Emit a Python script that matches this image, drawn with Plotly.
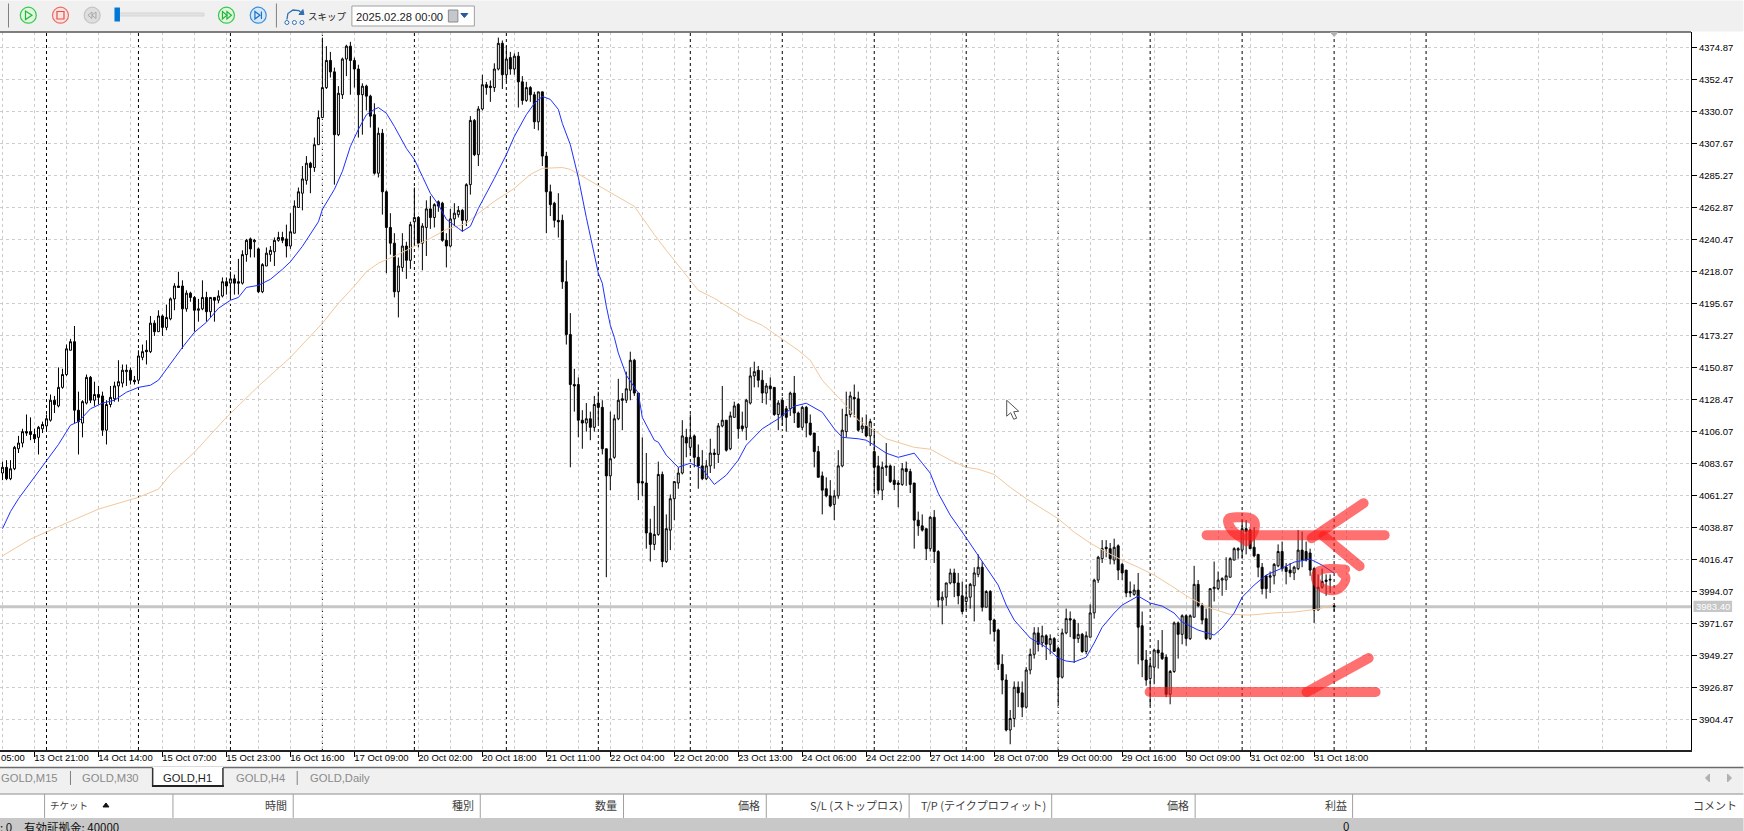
import plotly.graph_objects as go

opens = [
4077,4081,4073,4080,4094,4098,4106,4106,4104,4102,
4108,4110,4114,4128,4124,4137,4146,4163,4169,4121,
4112,4126,4144,4128,4132,4131,4107,4125,4129,4138,
4140,4148,4149,4142,4142,4158,4163,4162,4182,4176,
4187,4179,4185,4199,4208,4208,4192,4203,4200,4191,
4192,4200,4190,4200,4198,4201,4211,4210,4213,4211,
4210,4230,4241,4239,4234,4204,4222,4230,4232,4240,
4242,4241,4236,4245,4263,4273,4282,4294,4291,4307,
4326,4347,4366,4358,4314,4342,4367,4376,4366,4360,
4342,4348,4341,4328,4287,4315,4274,4249,4238,4204,
4221,4236,4226,4253,4256,4238,4249,4262,4256,4267,
4266,4240,4236,4255,4258,4261,4254,4279,4324,4300,
4332,4349,4348,4347,4360,4378,4356,4368,4360,4369,
4351,4338,4347,4342,4323,4344,4299,4274,4266,4254,
4254,4211,4174,4139,4139,4114,4112,4115,4109,4126,
4123,4094,4075,4088,4115,4129,4128,4135,4156,4133,
4071,4070,4035,4027,4034,4076,4015,4037,4059,4070,
4077,4102,4095,4103,4088,4082,4073,4082,4091,4090,
4110,4114,4094,4116,4125,4110,4109,4126,4145,4149,
4142,4133,4138,4137,4118,4128,4122,4122,4133,4119,
4109,4123,4112,4105,4092,4075,4066,4061,4055,4061,
4082,4106,4118,4130,4129,4108,4110,4103,4092,4082,
4065,4082,4082,4072,4070,4069,4080,4078,4070,4044,
4040,4038,4024,4046,4022,3988,3990,4000,4007,4000,
3991,3987,3990,3998,4006,4011,3983,3994,3974,3967,
3943,3932,3897,3905,3927,3923,3913,3939,3950,3965,
3958,3963,3957,3961,3954,3934,3965,3975,3974,3961,
3964,3952,3962,3979,4002,4017,4025,4024,4016,4026,
4013,4009,3994,3992,3995,3970,3946,3933,3941,3953,
3951,3948,3922,3938,3972,3964,3977,3961,3976,3999,
3984,3975,3961,3996,3996,4002,4002,4004,4016,4023,
4023,4038,4037,4025,4020,4011,4005,4004,4005,4012,
4022,4011,4009,4007,4010,4023,4022,4021,4010,3981,
3997,4001,4002,3984]
closes = [
4081,4073,4080,4095,4098,4106,4105,4104,4101,4109,
4111,4115,4128,4125,4137,4146,4164,4169,4121,4113,
4127,4144,4128,4132,4130,4107,4125,4130,4138,4141,
4149,4149,4142,4141,4159,4162,4162,4182,4176,4187,
4179,4186,4199,4208,4207,4192,4203,4200,4191,4192,
4200,4190,4200,4198,4201,4211,4208,4213,4210,4210,
4230,4240,4234,4240,4204,4223,4231,4233,4240,4242,
4240,4236,4246,4264,4274,4283,4294,4291,4307,4326,
4347,4366,4358,4314,4343,4367,4376,4366,4360,4342,
4348,4341,4327,4287,4315,4274,4249,4238,4204,4222,
4236,4226,4251,4256,4238,4250,4262,4256,4265,4264,
4240,4236,4255,4259,4261,4254,4279,4324,4300,4332,
4349,4347,4347,4360,4378,4356,4367,4360,4369,4351,
4338,4347,4342,4323,4344,4299,4274,4265,4254,4253,
4211,4174,4139,4138,4114,4112,4115,4109,4125,4123,
4094,4075,4087,4115,4128,4128,4136,4156,4133,4070,
4070,4035,4027,4034,4076,4015,4038,4059,4071,4077,
4103,4098,4102,4088,4082,4073,4082,4091,4090,4110,
4114,4093,4117,4124,4108,4108,4128,4145,4148,4142,
4133,4138,4136,4118,4126,4117,4116,4133,4119,4109,
4123,4112,4104,4092,4074,4065,4061,4054,4061,4082,
4107,4118,4131,4129,4107,4110,4103,4113,4081,4065,
4081,4081,4071,4069,4069,4080,4078,4069,4044,4040,
4037,4024,4046,4022,3988,3990,4000,4007,4000,3991,
3980,3990,3999,4007,4011,3983,3994,3974,3966,3943,
3932,3897,3905,3927,3923,3913,3939,3950,3965,3957,
3963,3957,3961,3952,3934,3965,3975,3974,3961,3964,
3952,3963,3979,4002,4018,4024,4024,4017,4025,4009,
4007,3993,3993,3995,3969,3946,3932,3942,3953,3951,
3947,3922,3938,3972,3964,3977,3961,3977,3999,3984,
3974,3961,3996,3997,4002,4003,4005,4017,4024,4024,
4038,4036,4024,4019,4011,3996,3996,4005,4013,4022,
4010,4008,4007,4011,4023,4016,4016,4009,3981,3997,
4001,4002,4002.5,3983.4]
highs = [
4085,4086,4086,4096,4103,4108,4118,4116,4108,4110,
4113,4118,4132,4131,4151,4150,4167,4171,4180,4134,
4128,4146,4145,4141,4138,4134,4128,4138,4141,4156,
4153,4153,4151,4145,4163,4167,4170,4187,4184,4191,
4188,4195,4200,4210,4218,4212,4205,4204,4201,4199,
4212,4204,4200,4200,4205,4214,4214,4218,4216,4227,
4233,4241,4242,4241,4235,4224,4235,4236,4242,4246,
4246,4251,4259,4268,4277,4292,4299,4295,4312,4331,
4382,4376,4372,4361,4348,4368,4377,4379,4368,4363,
4350,4349,4342,4336,4319,4318,4275,4259,4245,4228,
4245,4239,4253,4277,4257,4252,4268,4271,4266,4268,
4267,4245,4262,4266,4264,4262,4280,4327,4325,4334,
4356,4351,4352,4364,4382,4380,4376,4372,4371,4372,
4355,4351,4348,4344,4344,4344,4302,4279,4267,4273,
4258,4226,4189,4150,4144,4121,4126,4120,4131,4134,
4128,4094,4120,4118,4143,4133,4148,4162,4157,4133,
4102,4091,4045,4054,4085,4078,4048,4062,4071,4081,
4114,4108,4118,4104,4097,4093,4086,4101,4094,4112,
4138,4114,4120,4127,4126,4120,4129,4151,4155,4152,
4149,4140,4144,4137,4128,4130,4124,4134,4145,4120,
4124,4124,4118,4105,4096,4078,4074,4072,4065,4093,
4122,4134,4134,4139,4134,4116,4118,4115,4108,4089,
4085,4098,4083,4082,4072,4084,4085,4080,4070,4050,
4048,4038,4047,4051,4023,3994,4000,4010,4010,4007,
4001,3999,4000,4011,4020,4015,3995,3995,3975,3968,
3950,3936,3911,3931,3931,3931,3941,3954,3969,3969,
3970,3964,3964,3962,3955,3968,3982,3980,3975,3972,
3965,3966,3985,4003,4019,4030,4030,4028,4031,4027,
4014,4009,4001,3999,4007,3980,3953,3947,3954,3960,
3967,3950,3939,3973,3973,3978,3978,3978,4012,4002,
3986,3982,3996,4015,4008,4004,4018,4018,4025,4025,
4044,4044,4038,4039,4020,4014,4005,4008,4014,4027,
4029,4014,4014,4012,4037,4036,4029,4024,4011,4006,
4010,4006,4006,3985]
lows = [
4072,4072,4072,4079,4091,4095,4103,4100,4098,4090,
4105,4107,4113,4119,4123,4136,4145,4163,4112,4090,
4102,4125,4126,4124,4125,4103,4097,4123,4127,4127,
4137,4138,4139,4139,4140,4156,4153,4161,4173,4176,
4173,4177,4184,4191,4207,4164,4190,4197,4176,4183,
4191,4183,4186,4183,4196,4200,4202,4200,4202,4202,
4209,4225,4228,4228,4203,4203,4222,4225,4222,4239,
4238,4228,4234,4245,4263,4261,4279,4273,4288,4307,
4326,4346,4354,4279,4313,4339,4355,4342,4347,4312,
4314,4331,4319,4286,4284,4258,4217,4230,4200,4186,
4218,4213,4220,4237,4235,4219,4229,4248,4249,4260,
4239,4221,4235,4250,4256,4246,4250,4272,4299,4292,
4331,4342,4337,4344,4359,4346,4351,4356,4356,4333,
4335,4337,4337,4318,4317,4292,4245,4257,4249,4242,
4206,4167,4081,4120,4102,4094,4106,4100,4106,4112,
4090,4004,4065,4087,4114,4107,4126,4128,4131,4058,
4061,4024,4015,4023,4033,4011,4014,4023,4044,4066,
4076,4088,4090,4081,4066,4072,4072,4077,4080,4084,
4109,4092,4093,4116,4101,4106,4100,4125,4137,4137,
4126,4125,4128,4117,4107,4110,4106,4117,4112,4109,
4107,4102,4103,4081,4074,4048,4060,4053,4044,4059,
4081,4102,4116,4116,4106,4105,4102,4096,4062,4062,
4058,4075,4070,4065,4053,4068,4068,4063,4024,4033,
4036,4016,4022,4014,3983,3971,3984,3999,3990,3985,
3978,3981,3982,3973,4004,3980,3983,3964,3959,3939,
3922,3896,3887,3899,3913,3906,3912,3936,3947,3952,
3955,3946,3950,3952,3914,3933,3964,3962,3944,3958,
3951,3950,3962,3975,4000,4014,4018,4013,4013,4002,
4002,3990,3990,3991,3943,3934,3928,3914,3929,3940,
3946,3920,3915,3937,3947,3957,3956,3960,3976,3983,
3971,3960,3960,3987,3995,3991,3995,4004,4016,4017,
4017,4020,4024,4018,4004,3992,3989,3993,3999,4011,
4008,3999,4004,4002,4009,4011,4015,4005,3972,3981,
3996,3991,3993,3980]

ma_fast_bar = [0,2,4,7,11,14,17,19,22,25,28,31,34,37,39,42,45,48,51,54,57,59,61,64,67,70,72,75,77,79,80,83,85,87,89,91,93,94,96,98,101,103,105,107,109,111,114,115,117,119,123,126,128,131,133,135,137,139,140,142,144,146,149,150,151,152,153,154,156,159,160,163,164,166,169,172,175,177,178,181,184,186,190,194,198,201,205,208,210,214,216,218,221,224,228,230,232,234,237,241,244,249,251,253,257,261,264,266,268,271,273,275,278,280,284,287,290,293,295,299,303,305,308,310,313,316,320,323,327,330,333]
ma_fast = [4038,4050,4059,4070.6,4086,4097,4110.5,4113,4122,4126,4128,4133.6,4137,4138.5,4142,4153.9,4165,4175.6,4182.6,4192.4,4198,4200,4207,4208.5,4212.7,4219.7,4225,4235.8,4244,4253,4261.7,4275.7,4288.3,4305.8,4317.7,4328,4331.7,4333,4329,4319.8,4304.4,4296.7,4284.8,4272.9,4265,4254.7,4248.4,4246.3,4249.8,4262.4,4283.4,4300,4312.8,4328,4335.9,4340.8,4338.7,4331.7,4321.9,4307,4284,4256,4217,4209.9,4193.8,4180.5,4172,4161,4145.5,4133,4116,4100,4098.6,4089.5,4081,4083.9,4080,4073,4069,4075.5,4086,4096.5,4108,4115,4123.8,4125.9,4119.6,4108,4102,4101,4100,4096.5,4090.9,4088,4090.9,4083.9,4076.9,4062.9,4047.5,4031.6,4019.5,3998.5,3984.5,3974,3961.4,3955,3947.4,3945.3,3944.6,3948,3957.9,3969,3978.9,3984.5,3990.8,3985.9,3983.8,3978.9,3972.6,3967,3963.5,3968.4,3978.9,3990,3998.5,4005.5,4010.4,4014.6,4016.7,4012.5,4006.9]

ma_slow_bar = [0,7,16,24,34,39,42,48,56,64,72,80,84,88,91,94,98,103,107,111,116,119,123,128,132,135,138,140,142,149,158,163,166,172,174,178,182,186,190,199,202,205,209,212,214,218,221,224,228,232,237,241,244,248,252,256,260,264,268,272,276,280,284,288,292,297,302,307,312,318,323,329,333]
ma_slow = [4019,4030.7,4042,4051.7,4060,4065.7,4076,4091.6,4116,4137.8,4158,4181.9,4195.9,4208,4218,4224,4228.8,4235.8,4241.4,4247.7,4251.9,4258.9,4267.3,4276.4,4286.2,4290.4,4291,4291,4289.7,4278.5,4263.8,4244,4233,4212,4205,4199.4,4192.4,4185.4,4180.5,4163,4156,4142,4130,4121,4114,4107,4101,4098.6,4095,4093.7,4086,4081,4079.7,4076,4067,4059,4052,4045,4035.6,4027.9,4021.6,4016,4011,4005.5,3998.5,3989.4,3982.4,3978,3977.5,3979,3979.6,3981.7,3985]

bar_index = list(range(len(opens)))

x_tick_bars = [8,24,40,56,72,88,104,120,136,152,168,184,200,216,232,248,264,280,296,312,328]
x_tick_labels = ["13 Oct 21:00","14 Oct 14:00","15 Oct 07:00","15 Oct 23:00","16 Oct 16:00","17 Oct 09:00",
                 "20 Oct 02:00","20 Oct 18:00","21 Oct 11:00","22 Oct 04:00","22 Oct 20:00","23 Oct 13:00",
                 "24 Oct 06:00","24 Oct 22:00","27 Oct 14:00","28 Oct 07:00","29 Oct 00:00","29 Oct 16:00",
                 "30 Oct 09:00","31 Oct 02:00","31 Oct 18:00"]
x_grid_minor = [0,16,32,48,64,80,96,112,128,144,160,176,192,208,224,240,256,272,288,304,320,336,352,368,384,400,416]
y_ticks = [4374.87,4352.47,4330.07,4307.67,4285.27,4262.87,4240.47,4218.07,4195.67,4173.27,4150.87,4128.47,
           4106.07,4083.67,4061.27,4038.87,4016.47,3994.07,3971.67,3949.27,3926.87,3904.47]
day_separators = [11,34,57,80,103,126,149,172,195,218,241,264,287,310,333,356]
last_price = 3983.40

tab_labels = ["GOLD,M15","GOLD,M30","GOLD,H1","GOLD,H4","GOLD,Daily"]
tab_left = [1,82,163,236,310]
col_edges = [44.6,173,293.3,480.4,623.7,766.5,909.4,1052,1195.5,1353]
col_heads = ["時間","種別","数量","価格","S/L (ストップロス)","T/P (テイクプロフィット)","価格","利益","コメント"]
col_right = [287.5,474,617.4,760,903.6,1046,1189,1347,1738]

W, H_PLOT, TOP = 1691.5, 718.5, 31.5
def px(x): return x / W
def py(y): return (TOP + H_PLOT - y) / H_PLOT
FONT = "Liberation Sans"
LAB = 9.5
shapes, ann = [], []

def rect(x0, y0, x1, y1, fill, line=None, lw=1):
    shapes.append(dict(type="rect", xref="paper", yref="paper", x0=px(x0), x1=px(x1), y0=py(y0), y1=py(y1),
                       fillcolor=fill, line=dict(color=line or fill, width=lw if line else 0), layer="above"))
def seg(x0, y0, x1, y1, c, lw=1):
    shapes.append(dict(type="line", xref="paper", yref="paper", x0=px(x0), x1=px(x1), y0=py(y0), y1=py(y1),
                       line=dict(color=c, width=lw), layer="above"))
def poly(pts, fill=None, c="rgba(0,0,0,0)", lw=1, closed=True, opacity=1):
    d = "M" + " L".join(f"{px(a):.6f},{py(b):.6f}" for a, b in pts) + (" Z" if closed else "")
    shapes.append(dict(type="path", xref="paper", yref="paper", path=d, fillcolor=fill or "rgba(0,0,0,0)",
                       line=dict(color=c, width=lw), layer="above", opacity=opacity))
def circ(cx, cy, r, fill, c, lw=1):
    shapes.append(dict(type="circle", xref="paper", yref="paper", x0=px(cx-r), x1=px(cx+r), y0=py(cy-r), y1=py(cy+r),
                       fillcolor=fill, line=dict(color=c, width=lw), layer="above"))
def text(x, y, s, size=11, color="#404040", anchor="left", family=FONT):
    ann.append(dict(xref="paper", yref="paper", x=px(x), y=py(y), text=s, showarrow=False, xanchor=anchor,
                    yanchor="middle", font=dict(family=family, size=size, color=color), xshift=0, borderpad=0, borderwidth=0))
def rounded(pts, n=2):
    # corner rounding of a hand-drawn stroke
    for _ in range(n):
        out = [pts[0]]
        for (a, b), (c, d) in zip(pts, pts[1:]):
            out += [(0.75*a+0.25*c, 0.75*b+0.25*d), (0.25*a+0.75*c, 0.25*b+0.75*d)]
        out.append(pts[-1])
        pts = out
    return pts

# day separators and current price line (drawn through the data axes)
for d in day_separators:
    shapes.append(dict(type="line", xref="x", yref="paper", x0=d, x1=d, y0=0, y1=1, layer="below",
                       line=dict(color="#000000", width=1, dash="3px,3px")))
shapes.append(dict(type="line", xref="paper", yref="y", x0=0, x1=1, y0=last_price, y1=last_price, layer="below",
                   line=dict(color="#c6c6c6", width=3)))

# toolbar
rect(0, 0, 1744, 31, "#f0f0f0")
seg(0, 31.5, 1691.5, 31.5, "#555555", 1.5)
seg(8.5, 3, 8.5, 27, "#808080")
seg(276.5, 3, 276.5, 27, "#808080")
circ(28.3, 14.7, 8, "#dff7df", "#35c94a", 1.2)
poly([(25.5, 10.5), (25.5, 19), (32, 14.7)], None, "#28b53c", 1.2)
circ(60.5, 14.7, 8, "#fde3e1", "#ee6b63", 1.2)
rect(57, 11, 64, 18.5, "rgba(0,0,0,0)", "#e0524a", 1.2)
circ(92.2, 14.7, 8, "#dedede", "#c4c4c4", 1.2)
poly([(88, 14.7), (92, 11.5), (92, 18)], None, "#a8a8a8", 1)
poly([(92, 14.7), (96, 11.5), (96, 18)], None, "#a8a8a8", 1)
rect(117, 12.5, 204, 15.5, "#e3e3e3", "#d5d5d5")
rect(114.5, 7, 120, 21, "#0078d7")
circ(226.5, 14.7, 8, "#dff7df", "#35c94a", 1.2)
poly([(222.5, 11), (222.5, 18.5), (227, 14.7)], None, "#28b53c", 1.2)
poly([(227, 11), (227, 18.5), (231.5, 14.7)], None, "#28b53c", 1.2)
circ(258.3, 14.7, 8, "#d4e8fa", "#3a8fdc", 1.2)
poly([(255, 11), (255, 18.5), (260, 14.7)], None, "#1f6fc0", 1.2)
seg(261.5, 11, 261.5, 18.5, "#1f6fc0", 1.2)
poly([(287, 19), (288, 13), (293, 9.5), (299, 10), (302, 13)], None, "#2f6fb5", 1.3, closed=False)
poly([(299, 14), (304, 14), (303, 9)], "#2f6fb5", "#2f6fb5", 1)
for cx in (287, 294.5, 302):
    circ(cx, 22, 2, "#ffffff", "#2f6fb5", 1)
text(308, 15, "スキップ", 9.5, "#222222", family="Noto Sans CJK JP")
rect(352, 5.5, 474.5, 25.5, "#ffffff", "#a0a0a0")
text(356, 16, "2025.02.28 00:00", 11.2, "#222222")
rect(448.5, 9.5, 458, 21.5, "#c4c8cc", "#8a8a8a")
poly([(461, 13), (468, 13), (464.5, 17)], "#2b5a9c", "#2b5a9c", 1)

# bottom of the window
rect(0, 768, 1744, 831, "#f0f0f0")
seg(0, 767.5, 1744, 767.5, "#6b6b6b", 1.5)
seg(70.5, 771, 70.5, 785, "#808080")
seg(297.3, 771, 297.3, 785, "#808080")
rect(152.7, 767, 223, 786, "#ffffff")
seg(152.7, 768, 152.7, 786, "#333333", 1.5)
seg(223, 768, 223, 786, "#333333", 1.5)
seg(152, 786, 224, 786, "#222222", 2)
for s, x in zip(tab_labels, tab_left):
    text(x, 778, s, 11.2, "#222222" if s == "GOLD,H1" else "#8a8a8a")
poly([(1710, 774), (1710, 782), (1706, 778)], "#b0b0b0", "#b0b0b0", 1)
poly([(1728, 774), (1728, 782), (1732, 778)], "#b0b0b0", "#b0b0b0", 1)
rect(0, 794, 1744, 818, "#ffffff")
seg(0, 794, 1744, 794, "#b0b0b0", 1.5)
rect(0, 818, 1744, 831, "#c8c8c8")
for e in col_edges:
    seg(e, 794, e, 818, "#a0a0a0")
text(50, 805, "チケット", 9.5, "#404040", family="Noto Sans CJK JP")
poly([(103, 807), (109, 807), (106, 803)], "#111111", "#111111", 1)
for s, x in zip(col_heads, col_right):
    text(x, 805, s, 11, "#404040", anchor="right", family="Noto Sans CJK JP")
text(0, 827, ": 0", 11.5, "#111111", family="Noto Sans CJK JP")
text(24.5, 827, "有効証拠金: 40000", 11.5, "#111111", family="Noto Sans CJK JP")
text(1349.5, 826, "0", 11.5, "#111111", anchor="right", family="Noto Sans CJK JP")

# left clipped time label, shift marker, price label, cursor
text(1, 757.5, "05:00", LAB, "#000000")
poly([(1331, 32), (1338, 32), (1334.5, 36)], "#b0b0b0", "#b0b0b0", 1)
rect(1694, 600.7, 1732.6, 612, "#c6c6c6")
text(1713.3, 606.5, "3983.40", LAB, "#ffffff", anchor="center")
poly([(1007, 400), (1007, 416), (1011, 412.5), (1014, 419), (1017, 418), (1014, 411.5), (1019, 411)], "#ffffff", "#555555", 1)

# hand-drawn red marks
RED, RW = "#ff1a1a", 10
for stroke in [[(1207, 535), (1385, 535)], [(1312, 538), (1364, 503)], [(1324, 536), (1360, 566)],
               [(1150, 692), (1376, 692)], [(1307, 692), (1369, 658)]]:
    poly(stroke, None, RED, RW, closed=False, opacity=0.62)
poly(rounded([(1247, 541), (1232, 531), (1227, 519), (1234, 517), (1250, 517), (1256, 522), (1254, 533), (1247, 541)]),
     None, RED, 10, closed=False, opacity=0.62)
poly(rounded([(1346, 569), (1328, 568), (1317, 571), (1315, 580), (1324, 590), (1339, 591), (1348, 578), (1342, 573)]),
     None, RED, 9, closed=False, opacity=0.62)

fig = go.Figure()
fig.add_trace(go.Candlestick(
    x=bar_index, open=opens, high=highs, low=lows, close=closes, whiskerwidth=0,
    increasing=dict(fillcolor="#ffffff", line=dict(color="#000000", width=1)),
    decreasing=dict(fillcolor="#000000", line=dict(color="#000000", width=1)),
    hoverinfo="skip", showlegend=False))
fig.add_trace(go.Scatter(x=ma_slow_bar, y=ma_slow, mode="lines", line=dict(color="#f2c79d", width=1), hoverinfo="skip", showlegend=False))
fig.add_trace(go.Scatter(x=ma_fast_bar, y=ma_fast, mode="lines", line=dict(color="#1e30ff", width=1), hoverinfo="skip", showlegend=False))

grid = dict(showgrid=True, gridcolor="#cdcdcd", gridwidth=1, griddash="3px,3px")
fig.update_layout(
    width=1744, height=831, margin=dict(l=0, r=52.5, t=31.5, b=81, pad=0),
    paper_bgcolor="#ffffff", plot_bgcolor="#ffffff", showlegend=False,
    shapes=shapes, annotations=ann,
    font=dict(family=FONT, size=LAB, color="#000000"),
    xaxis=dict(range=[-0.625, 422.25], rangeslider=dict(visible=False), tickmode="array",
               tickvals=x_tick_bars, ticktext=x_tick_labels, ticks="outside", ticklen=5, tickcolor="#000000",
               tickwidth=1, ticklabelshift=27, ticklabelstandoff=-7, showline=True, linecolor="#222222", linewidth=1.5, mirror=False,
               zeroline=False, tickangle=0, automargin=False,
               minor=dict(tickmode="array", tickvals=x_grid_minor, showgrid=True, gridcolor="#cdcdcd",
                          griddash="3px,3px", gridwidth=1, ticks=""), **grid),
    yaxis=dict(range=[3882.98, 4385.93], side="right", tickmode="array", tickvals=y_ticks,
               ticktext=[f"{v:.2f}" for v in y_ticks], ticks="outside", ticklen=5, tickcolor="#000000",
               tickwidth=1, showline=True, linecolor="#000000", linewidth=1, zeroline=False, automargin=False, **grid),
)

post = """
document.body.style.margin='0';document.body.style.overflow='hidden';
document.querySelectorAll('.shapelayer path').forEach(function(p){
  if(parseFloat(p.style.strokeWidth)>=8){p.style.strokeLinecap='round';p.style.strokeLinejoin='round';}
});
"""
fig.write_html("out.html", post_script=post, config={"displayModeBar": False})
